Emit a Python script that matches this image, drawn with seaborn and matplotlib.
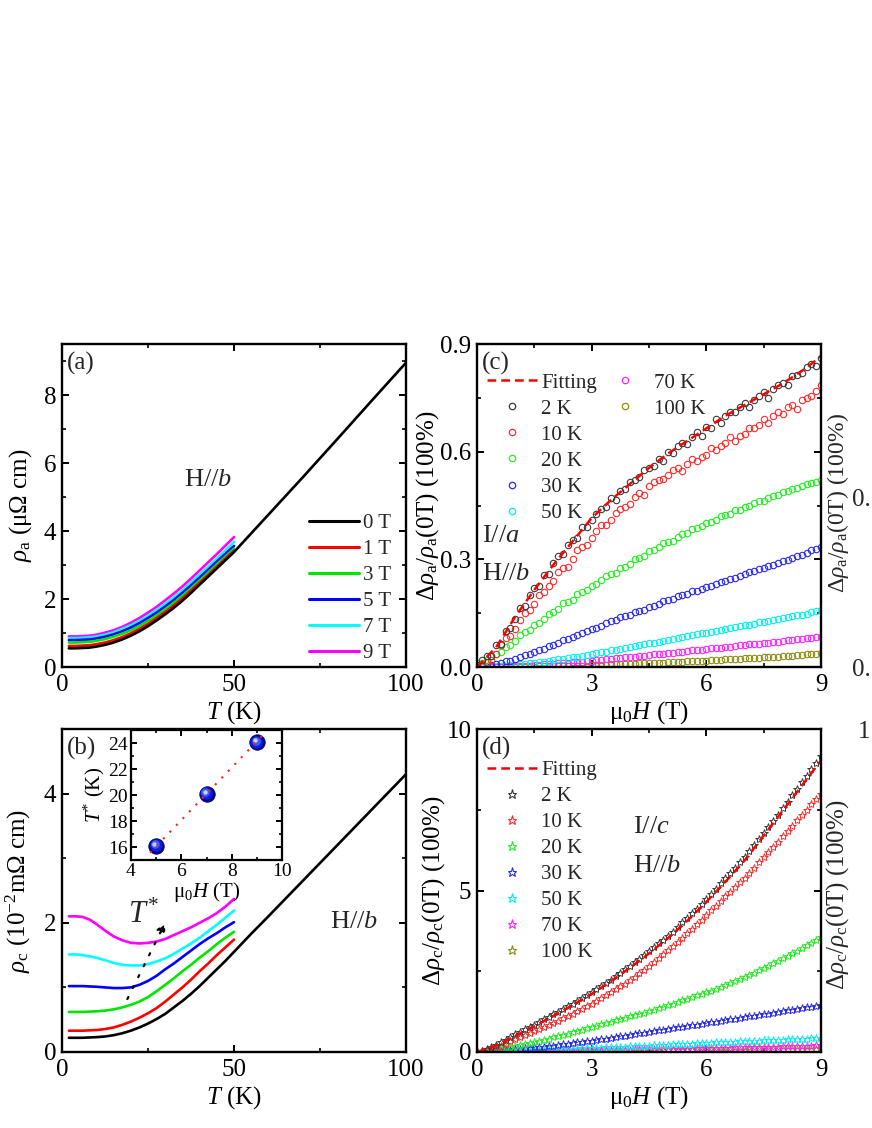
import numpy as np
import pandas as pd
import matplotlib
matplotlib.use("Agg")
import matplotlib.pyplot as plt
import matplotlib.transforms as mtransforms
from matplotlib.lines import Line2D
from matplotlib.ticker import MultipleLocator, FormatStrFormatter
import seaborn as sns

# ---------------- data ----------------
# panels (a)/(b): temperature grid below 50 K and the 0 T extension to 100 K
T_low = [2, 4, 6, 8, 10, 12.5, 15, 17.5, 20, 22.5, 25, 27.5, 30, 32.5, 35, 37.5,
         40, 42.5, 45, 47.5, 50]
T_high = [55, 60, 70, 80, 90, 100]
fields_a = ["0 T", "1 T", "3 T", "5 T", "7 T", "9 T"]

# panel (a): rho_a (uOhm cm)
rho_a_0T = [0.55, 0.55, 0.56, 0.57, 0.60, 0.65, 0.72, 0.81, 0.92, 1.05, 1.20, 1.37,
            1.55, 1.74, 1.95, 2.18, 2.42, 2.66, 2.90, 3.14, 3.38,
            3.93, 4.48, 5.58, 6.70, 7.83, 8.95]
rho_a_1T = [0.62, 0.62, 0.63, 0.64, 0.67, 0.72, 0.79, 0.88, 0.99, 1.12, 1.27, 1.44,
            1.62, 1.81, 2.02, 2.25, 2.48, 2.71, 2.95, 3.19, 3.42]
rho_a_3T = [0.72, 0.72, 0.73, 0.74, 0.77, 0.82, 0.89, 0.98, 1.08, 1.21, 1.36, 1.52,
            1.70, 1.89, 2.10, 2.32, 2.55, 2.78, 3.02, 3.25, 3.48]
rho_a_5T = [0.79, 0.79, 0.80, 0.81, 0.84, 0.89, 0.96, 1.05, 1.16, 1.29, 1.44, 1.60,
            1.78, 1.97, 2.18, 2.40, 2.63, 2.86, 3.10, 3.33, 3.56]
rho_a_7T = [0.85, 0.85, 0.86, 0.87, 0.90, 0.95, 1.02, 1.12, 1.23, 1.36, 1.51, 1.68,
            1.86, 2.05, 2.26, 2.49, 2.72, 2.95, 3.19, 3.43, 3.68]
rho_a_9T = [0.90, 0.90, 0.91, 0.92, 0.95, 1.01, 1.08, 1.18, 1.30, 1.44, 1.60, 1.77,
            1.96, 2.16, 2.37, 2.60, 2.84, 3.08, 3.32, 3.57, 3.82]

# panel (b): rho_c (10^-2 mOhm cm)
rho_c_0T = [0.22, 0.22, 0.22, 0.225, 0.23, 0.24, 0.26, 0.29, 0.33, 0.38, 0.44, 0.51,
            0.59, 0.69, 0.79, 0.90, 1.02, 1.15, 1.28, 1.41, 1.55,
            1.83, 2.10, 2.65, 3.20, 3.75, 4.30]
rho_c_1T = [0.33, 0.33, 0.33, 0.335, 0.34, 0.355, 0.38, 0.42, 0.47, 0.53, 0.60,
            0.68, 0.78, 0.89, 1.00, 1.12, 1.25, 1.37, 1.50, 1.62, 1.74]
rho_c_3T = [0.62, 0.62, 0.62, 0.625, 0.63, 0.64, 0.66, 0.69, 0.73, 0.78, 0.85,
            0.94, 1.04, 1.14, 1.25, 1.35, 1.46, 1.56, 1.67, 1.77, 1.86]
rho_c_5T = [1.02, 1.02, 1.02, 1.015, 1.01, 1.00, 0.99, 0.99, 1.00, 1.04, 1.10,
            1.18, 1.28, 1.37, 1.47, 1.57, 1.67, 1.76, 1.84, 1.93, 2.01]
rho_c_7T = [1.51, 1.51, 1.50, 1.48, 1.46, 1.42, 1.38, 1.35, 1.34, 1.34, 1.36,
            1.40, 1.45, 1.52, 1.60, 1.68, 1.77, 1.87, 1.97, 2.08, 2.19]
rho_c_9T = [2.10, 2.10, 2.09, 2.05, 1.98, 1.88, 1.79, 1.73, 1.69, 1.68, 1.69,
            1.71, 1.75, 1.81, 1.87, 1.93, 2.00, 2.07, 2.15, 2.25, 2.37]
# T* guide (dotted arrow) start / end
tstar_T = [19.0, 30.0]
tstar_rho = [0.82, 2.00]

# inset: T* vs field
inset_H = [5, 7, 9]
inset_Tstar = [16.1, 20.1, 24.05]
inset_fit_H = [4.76, 9.27]
inset_fit_T = [15.57, 24.67]

# panels (c)/(d): magnetoresistance vs field
H_grid = [0.0, 0.125, 0.25, 0.375, 0.5, 0.625, 0.75, 0.875,
          1.0, 1.125, 1.25, 1.375, 1.5, 1.625, 1.75, 1.875,
          2.0, 2.125, 2.25, 2.375, 2.5, 2.625, 2.75, 2.875,
          3.0, 3.125, 3.25, 3.375, 3.5, 3.625, 3.75, 3.875,
          4.0, 4.125, 4.25, 4.375, 4.5, 4.625, 4.75, 4.875,
          5.0, 5.125, 5.25, 5.375, 5.5, 5.625, 5.75, 5.875,
          6.0, 6.125, 6.25, 6.375, 6.5, 6.625, 6.75, 6.875,
          7.0, 7.125, 7.25, 7.375, 7.5, 7.625, 7.75, 7.875,
          8.0, 8.125, 8.25, 8.375, 8.5, 8.625, 8.75, 8.875,
          9.0]
H_fit = [0.0, 0.5, 1.0, 1.5, 2.0, 2.5, 3.0, 3.5, 4.0, 4.5, 5.0, 5.5, 6.0, 6.5,
         7.0, 7.5, 8.0, 8.5, 9.0]
temps = ["2 K", "10 K", "20 K", "30 K", "50 K", "70 K", "100 K"]

# (c) I//a
mr_a_fit = [0.0, 0.055, 0.14, 0.215, 0.285, 0.35, 0.415, 0.465, 0.51, 0.555,
            0.595, 0.63, 0.665, 0.70, 0.73, 0.76, 0.79, 0.825, 0.865]
mr_a_2K = [0.005, 0.02, 0.03, 0.03, 0.06, 0.065, 0.10, 0.11,
           0.135, 0.165, 0.17, 0.20, 0.22, 0.225, 0.255, 0.26,
           0.29, 0.31, 0.315, 0.34, 0.355, 0.36, 0.39, 0.39,
           0.41, 0.425, 0.44, 0.445, 0.47, 0.465, 0.49, 0.495,
           0.515, 0.52, 0.53, 0.55, 0.555, 0.56, 0.58, 0.575,
           0.60, 0.595, 0.615, 0.625, 0.62, 0.64, 0.655, 0.645,
           0.67, 0.665, 0.69, 0.68, 0.70, 0.71, 0.71, 0.725,
           0.735, 0.725, 0.745, 0.755, 0.765, 0.75, 0.775, 0.785,
           0.79, 0.785, 0.81, 0.815, 0.82, 0.835, 0.845, 0.84,
           0.86]
mr_a_10K = [0.0, 0.005, 0.015, 0.02, 0.035, 0.06, 0.08, 0.085,
            0.105, 0.13, 0.15, 0.16, 0.175, 0.20, 0.21, 0.225,
            0.24, 0.265, 0.275, 0.28, 0.30, 0.325, 0.335, 0.34,
            0.36, 0.38, 0.395, 0.395, 0.41, 0.43, 0.44, 0.445,
            0.455, 0.475, 0.485, 0.48, 0.505, 0.515, 0.52, 0.525,
            0.535, 0.55, 0.555, 0.545, 0.565, 0.58, 0.575, 0.585,
            0.59, 0.61, 0.605, 0.615, 0.625, 0.64, 0.63, 0.645,
            0.65, 0.665, 0.665, 0.675, 0.69, 0.68, 0.70, 0.71,
            0.705, 0.725, 0.73, 0.72, 0.745, 0.75, 0.755, 0.77,
            0.785]
mr_a_20K = [0.01, 0.012, 0.02, 0.03, 0.035, 0.042, 0.057, 0.062,
            0.073, 0.088, 0.097, 0.103, 0.117, 0.122, 0.133, 0.147,
            0.153, 0.162, 0.177, 0.18, 0.188, 0.203, 0.208, 0.215,
            0.227, 0.23, 0.242, 0.253, 0.258, 0.263, 0.277, 0.28,
            0.288, 0.30, 0.303, 0.31, 0.322, 0.325, 0.333, 0.345,
            0.348, 0.352, 0.362, 0.37, 0.373, 0.385, 0.388, 0.393,
            0.402, 0.403, 0.41, 0.42, 0.423, 0.427, 0.437, 0.438,
            0.447, 0.448, 0.457, 0.462, 0.463, 0.472, 0.477, 0.478,
            0.487, 0.49, 0.497, 0.50, 0.503, 0.51, 0.513, 0.515,
            0.52]
mr_a_30K = [0.0, 0.002, 0.004, 0.005, 0.009, 0.01, 0.016, 0.018,
            0.022, 0.028, 0.033, 0.036, 0.043, 0.046, 0.051, 0.058,
            0.061, 0.066, 0.074, 0.077, 0.083, 0.09, 0.094, 0.10,
            0.107, 0.11, 0.115, 0.122, 0.127, 0.13, 0.138, 0.141,
            0.146, 0.153, 0.156, 0.16, 0.168, 0.171, 0.176, 0.183,
            0.186, 0.19, 0.197, 0.20, 0.204, 0.211, 0.213, 0.218,
            0.224, 0.227, 0.231, 0.237, 0.24, 0.246, 0.249, 0.254,
            0.258, 0.264, 0.267, 0.272, 0.276, 0.282, 0.285, 0.29,
            0.295, 0.299, 0.304, 0.31, 0.313, 0.318, 0.325, 0.329,
            0.335]
mr_a_50K = [0.0, 0.0, 0.001, 0.002, 0.002, 0.003, 0.004, 0.005,
            0.006, 0.008, 0.009, 0.011, 0.012, 0.013, 0.015, 0.017,
            0.019, 0.021, 0.023, 0.024, 0.027, 0.029, 0.031, 0.033,
            0.036, 0.038, 0.041, 0.043, 0.046, 0.048, 0.051, 0.053,
            0.056, 0.058, 0.061, 0.063, 0.066, 0.068, 0.071, 0.073,
            0.076, 0.078, 0.081, 0.084, 0.086, 0.088, 0.091, 0.094,
            0.096, 0.098, 0.101, 0.104, 0.106, 0.108, 0.111, 0.114,
            0.116, 0.118, 0.121, 0.124, 0.126, 0.128, 0.131, 0.134,
            0.136, 0.138, 0.141, 0.144, 0.146, 0.149, 0.152, 0.155,
            0.158]
mr_a_70K = [0.0, 0.0, 0.0, 0.0, 0.001, 0.001, 0.001, 0.002,
            0.003, 0.003, 0.004, 0.004, 0.005, 0.006, 0.007, 0.008,
            0.009, 0.01, 0.011, 0.012, 0.013, 0.014, 0.015, 0.017,
            0.018, 0.019, 0.02, 0.022, 0.023, 0.024, 0.025, 0.027,
            0.028, 0.029, 0.03, 0.032, 0.033, 0.035, 0.036, 0.037,
            0.038, 0.04, 0.041, 0.043, 0.044, 0.046, 0.047, 0.048,
            0.05, 0.052, 0.053, 0.054, 0.056, 0.057, 0.058, 0.06,
            0.061, 0.063, 0.064, 0.065, 0.067, 0.068, 0.07, 0.071,
            0.073, 0.074, 0.076, 0.077, 0.079, 0.08, 0.081, 0.083,
            0.084]
mr_a_100K = [0.0, 0.0, 0.0, 0.0, 0.0, 0.0, 0.0, 0.0,
             0.001, 0.001, 0.001, 0.001, 0.001, 0.002, 0.002, 0.002,
             0.002, 0.003, 0.003, 0.003, 0.003, 0.004, 0.004, 0.004,
             0.005, 0.005, 0.006, 0.006, 0.007, 0.007, 0.008, 0.008,
             0.009, 0.009, 0.01, 0.01, 0.011, 0.011, 0.012, 0.012,
             0.013, 0.013, 0.014, 0.015, 0.016, 0.016, 0.017, 0.017,
             0.018, 0.019, 0.019, 0.02, 0.021, 0.021, 0.022, 0.023,
             0.024, 0.024, 0.025, 0.026, 0.027, 0.027, 0.028, 0.029,
             0.03, 0.031, 0.032, 0.033, 0.034, 0.035, 0.036, 0.037,
             0.039]

# (d) I//c
mr_c_fit = [0.0, 0.2, 0.5, 0.8, 1.12, 1.45, 1.8, 2.19, 2.61, 3.05, 3.53, 4.06,
            4.65, 5.27, 5.93, 6.70, 7.47, 8.25, 9.03]
mr_c_2K = [0.0, 0.04, 0.10, 0.16, 0.23, 0.30, 0.38, 0.46,
           0.55, 0.62, 0.70, 0.77, 0.85, 0.93, 1.01, 1.09,
           1.17, 1.25, 1.33, 1.41, 1.50, 1.58, 1.67, 1.76,
           1.85, 1.94, 2.04, 2.14, 2.24, 2.34, 2.45, 2.56,
           2.67, 2.78, 2.89, 3.00, 3.12, 3.24, 3.36, 3.48,
           3.60, 3.73, 3.87, 4.01, 4.15, 4.29, 4.44, 4.59,
           4.75, 4.90, 5.06, 5.22, 5.38, 5.54, 5.71, 5.88,
           6.05, 6.23, 6.41, 6.59, 6.78, 6.97, 7.16, 7.35,
           7.55, 7.75, 7.95, 8.15, 8.35, 8.55, 8.75, 8.95,
           9.16]
mr_c_10K = [0.0, 0.03, 0.06, 0.10, 0.15, 0.20, 0.26, 0.33,
            0.40, 0.46, 0.52, 0.58, 0.64, 0.70, 0.77, 0.83,
            0.90, 0.97, 1.04, 1.11, 1.19, 1.26, 1.34, 1.42,
            1.50, 1.58, 1.67, 1.76, 1.85, 1.94, 2.03, 2.12,
            2.22, 2.33, 2.44, 2.55, 2.67, 2.79, 2.91, 3.03,
            3.15, 3.28, 3.41, 3.54, 3.68, 3.82, 3.96, 4.10,
            4.25, 4.39, 4.53, 4.67, 4.82, 4.96, 5.11, 5.25,
            5.40, 5.55, 5.71, 5.87, 6.03, 6.19, 6.35, 6.51,
            6.68, 6.84, 7.01, 7.17, 7.34, 7.50, 7.67, 7.83,
            8.00]
mr_c_20K = [0.0, 0.01, 0.03, 0.05, 0.08, 0.11, 0.14, 0.17,
            0.20, 0.23, 0.26, 0.29, 0.32, 0.35, 0.38, 0.41,
            0.45, 0.49, 0.53, 0.57, 0.61, 0.65, 0.69, 0.73,
            0.78, 0.82, 0.86, 0.90, 0.94, 0.98, 1.02, 1.06,
            1.10, 1.14, 1.18, 1.22, 1.27, 1.31, 1.36, 1.40,
            1.45, 1.50, 1.55, 1.60, 1.65, 1.70, 1.75, 1.80,
            1.85, 1.90, 1.96, 2.02, 2.08, 2.14, 2.20, 2.26,
            2.32, 2.39, 2.46, 2.53, 2.60, 2.67, 2.75, 2.82,
            2.90, 2.98, 3.06, 3.14, 3.22, 3.30, 3.38, 3.46,
            3.55]
mr_c_30K = [0.0, 0.005, 0.01, 0.02, 0.03, 0.04, 0.05, 0.065,
            0.08, 0.095, 0.11, 0.125, 0.14, 0.155, 0.17, 0.185,
            0.20, 0.22, 0.24, 0.26, 0.28, 0.295, 0.31, 0.33,
            0.35, 0.37, 0.39, 0.415, 0.44, 0.46, 0.48, 0.505,
            0.53, 0.555, 0.58, 0.60, 0.62, 0.645, 0.67, 0.695,
            0.72, 0.74, 0.76, 0.785, 0.81, 0.83, 0.85, 0.875,
            0.90, 0.92, 0.94, 0.965, 0.99, 1.01, 1.03, 1.055,
            1.08, 1.10, 1.12, 1.145, 1.17, 1.19, 1.21, 1.235,
            1.26, 1.285, 1.31, 1.335, 1.36, 1.38, 1.40, 1.425,
            1.45]
mr_c_50K = [0.0, 0.003, 0.005, 0.008, 0.01, 0.015, 0.02, 0.025,
            0.03, 0.035, 0.04, 0.045, 0.05, 0.055, 0.06, 0.065,
            0.07, 0.075, 0.08, 0.088, 0.095, 0.103, 0.11, 0.115,
            0.12, 0.128, 0.135, 0.143, 0.15, 0.155, 0.16, 0.168,
            0.175, 0.183, 0.19, 0.195, 0.20, 0.208, 0.215, 0.223,
            0.23, 0.235, 0.24, 0.248, 0.255, 0.263, 0.27, 0.275,
            0.28, 0.288, 0.295, 0.303, 0.31, 0.315, 0.32, 0.328,
            0.335, 0.343, 0.35, 0.355, 0.36, 0.365, 0.37, 0.378,
            0.385, 0.39, 0.395, 0.403, 0.41, 0.415, 0.42, 0.425,
            0.43]
mr_c_70K = [0.0, 0.0, 0.0, 0.003, 0.005, 0.008, 0.01, 0.013,
            0.015, 0.018, 0.02, 0.023, 0.025, 0.028, 0.03, 0.033,
            0.035, 0.038, 0.04, 0.043, 0.045, 0.048, 0.05, 0.053,
            0.055, 0.058, 0.06, 0.063, 0.065, 0.068, 0.07, 0.073,
            0.075, 0.078, 0.08, 0.083, 0.085, 0.088, 0.09, 0.093,
            0.095, 0.098, 0.10, 0.103, 0.105, 0.108, 0.11, 0.115,
            0.12, 0.123, 0.125, 0.128, 0.13, 0.135, 0.14, 0.143,
            0.145, 0.148, 0.15, 0.155, 0.16, 0.163, 0.165, 0.17,
            0.175, 0.178, 0.18, 0.185, 0.19, 0.195, 0.20, 0.205,
            0.21]
mr_c_100K = [0.0, 0.0, 0.0, 0.0, 0.0, 0.002, 0.003, 0.004,
             0.005, 0.005, 0.005, 0.008, 0.01, 0.01, 0.01, 0.013,
             0.015, 0.015, 0.015, 0.018, 0.02, 0.02, 0.02, 0.023,
             0.025, 0.028, 0.03, 0.03, 0.03, 0.033, 0.035, 0.035,
             0.035, 0.038, 0.04, 0.04, 0.04, 0.043, 0.045, 0.048,
             0.05, 0.05, 0.05, 0.053, 0.055, 0.058, 0.06, 0.06,
             0.06, 0.063, 0.065, 0.068, 0.07, 0.07, 0.07, 0.073,
             0.075, 0.078, 0.08, 0.08, 0.08, 0.083, 0.085, 0.088,
             0.09, 0.09, 0.09, 0.093, 0.095, 0.098, 0.10, 0.10,
             0.105]

colors_field = ["#000000", "#FF0000", "#00E600", "#0000FF", "#00FFFF", "#FF00FF"]
colors_temp = ["#3A3A3A", "#FF2A2A", "#22EE22", "#2A2AEE", "#00F0F0", "#FF22FF",
               "#8C8C10"]

# ---------------- style ----------------
sns.set_theme(style="ticks")
plt.rcParams.update({
    "font.family": ["Liberation Serif", "DejaVu Serif"],
    "mathtext.fontset": "custom",
    "mathtext.rm": "Liberation Serif",
    "mathtext.it": "Liberation Serif:italic",
    "mathtext.bf": "Liberation Serif:bold",
    "axes.linewidth": 1.7,
    "axes.edgecolor": "black",
    "axes.facecolor": "white",
    "axes.labelcolor": "black",
    "xtick.color": "black", "ytick.color": "black",
    "xtick.direction": "in", "ytick.direction": "in",
    "xtick.top": True, "ytick.right": True,
    "xtick.major.size": 5, "ytick.major.size": 5,
    "xtick.minor.size": 3, "ytick.minor.size": 3,
    "xtick.major.width": 1.4, "ytick.major.width": 1.4,
    "xtick.minor.width": 1.2, "ytick.minor.width": 1.2,
    "xtick.major.pad": 5, "ytick.major.pad": 4,
    "xtick.labelsize": 18, "ytick.labelsize": 18,
    "axes.labelsize": 18,
    "legend.fontsize": 15,
})

W, H = 872, 1128
fig = plt.figure(figsize=(W / 100, H / 100), dpi=100)
fig.patch.set_facecolor("white")


def px_axes(l, t, r, b):
    return fig.add_axes([l / W, 1 - b / H, (r - l) / W, (b - t) / H])


ax_a = px_axes(62, 344, 406, 667)
ax_c = px_axes(477, 344, 821, 667)
ax_b = px_axes(62, 729, 406, 1052)
ax_d = px_axes(477, 729, 821, 1052)


def long_frame(series):
    rows = []
    for f, vals in zip(fields_a, series):
        Ts = (T_low + T_high) if len(vals) > len(T_low) else T_low
        for t, v in zip(Ts, vals):
            rows.append((f, t, v))
    return pd.DataFrame(rows, columns=["field", "T", "rho"])


# ---------- (a) ----------
df_a = long_frame([rho_a_0T, rho_a_1T, rho_a_3T, rho_a_5T, rho_a_7T, rho_a_9T])
sns.lineplot(data=df_a, x="T", y="rho", hue="field", hue_order=fields_a[::-1],
             palette=dict(zip(fields_a, colors_field)), estimator=None, sort=False,
             lw=1.9, ax=ax_a, legend=False)
ax_a.set_xlim(0, 100)
ax_a.set_ylim(0, 9.5)
ax_a.xaxis.set_major_locator(MultipleLocator(50))
ax_a.xaxis.set_minor_locator(MultipleLocator(25))
ax_a.yaxis.set_major_locator(MultipleLocator(2))
ax_a.yaxis.set_minor_locator(MultipleLocator(1))
ax_a.set_xlabel(r"$T$ (K)")
ax_a.set_ylabel(r"$\rho_{\rm a}$ (μΩ cm)")
hand_a = [Line2D([], [], color=c, lw=2.2) for c in colors_field]
ax_a.legend(hand_a, fields_a, loc="lower right", bbox_to_anchor=(0.958, 0.012),
            frameon=False, handlelength=2.4, handletextpad=0.2, labelspacing=0.31,
            borderpad=0, borderaxespad=0)
ax_a.text(0.015, 0.975, "(a)", transform=ax_a.transAxes, ha="left", va="top",
          fontsize=18)
ax_a.text(0.355, 0.56, r"H//$b$", transform=ax_a.transAxes, ha="left",
          va="baseline", fontsize=19)

# ---------- (b) ----------
df_b = long_frame([rho_c_0T, rho_c_1T, rho_c_3T, rho_c_5T, rho_c_7T, rho_c_9T])
sns.lineplot(data=df_b, x="T", y="rho", hue="field", hue_order=fields_a,
             palette=dict(zip(fields_a, colors_field)), estimator=None, sort=False,
             lw=1.9, ax=ax_b, legend=False)
ax_b.set_xlim(0, 100)
ax_b.set_ylim(0, 5)
ax_b.xaxis.set_major_locator(MultipleLocator(50))
ax_b.xaxis.set_minor_locator(MultipleLocator(25))
ax_b.yaxis.set_major_locator(MultipleLocator(2))
ax_b.yaxis.set_minor_locator(MultipleLocator(1))
ax_b.set_xlabel(r"$T$ (K)")
ax_b.set_ylabel(r"$\rho_{\rm c}$ (10$^{-2}$mΩ cm)")
ax_b.annotate("", xy=(tstar_T[1], tstar_rho[1]), xytext=(tstar_T[0], tstar_rho[0]),
              arrowprops=dict(arrowstyle="-|>", color="black", lw=1.6,
                              linestyle=(0, (1, 4.5)), mutation_scale=13,
                              shrinkA=0, shrinkB=0))
ax_b.text(19.3, 1.99, r"$T^{*}$", fontsize=22, ha="left", va="baseline")
ax_b.text(0.015, 0.975, "(b)", transform=ax_b.transAxes, ha="left", va="top",
          fontsize=18)
ax_b.text(0.779, 0.384, r"H//$b$", transform=ax_b.transAxes, ha="left",
          va="baseline", fontsize=19)

# inset
ax_in = px_axes(131, 730, 282, 860)
for sp in ax_in.spines.values():
    sp.set_linewidth(1.6)
sns.lineplot(x=inset_fit_H, y=inset_fit_T, color="#FF2020", lw=1.5,
             linestyle=(0, (1, 3.5)), estimator=None, sort=False, ax=ax_in,
             zorder=5)
sns.scatterplot(x=inset_H, y=inset_Tstar, s=125, color="#00009A",
                edgecolor="#000060", linewidth=0.5, ax=ax_in, zorder=3,
                legend=False)
for sz, col, off in [(80, "#1020D8", 0.4), (38, "#3D5CFF", 0.9), (10, "#C8D2FF", 1.4)]:
    tr = ax_in.transData + mtransforms.ScaledTranslation(-off / 72, off / 72,
                                                          fig.dpi_scale_trans)
    ax_in.scatter(inset_H, inset_Tstar, s=sz, color=col, linewidths=0,
                  transform=tr, zorder=4)
ax_in.set_xlim(4, 10)
ax_in.set_ylim(15, 25)
ax_in.xaxis.set_major_locator(MultipleLocator(2))
ax_in.xaxis.set_minor_locator(MultipleLocator(1))
ax_in.yaxis.set_major_locator(MultipleLocator(2))
ax_in.yaxis.set_minor_locator(MultipleLocator(1))
ax_in.tick_params(labelsize=14, pad=2, length=4)
ax_in.tick_params(which="minor", length=2.5)
ax_in.set_xlabel(r"μ$_0$$H$ (T)", fontsize=15, labelpad=0)
ax_in.set_ylabel(r"$T^{*}$ (K)", fontsize=15, labelpad=1)

# ---------- (c) ----------
series_c = [mr_a_2K, mr_a_10K, mr_a_20K, mr_a_30K, mr_a_50K, mr_a_70K, mr_a_100K]
for vals, c in zip(series_c[::-1], colors_temp[::-1]):
    sns.lineplot(x=H_grid, y=vals, ax=ax_c, color=c, marker="o", linestyle="none",
                 mfc="none", mec=c, ms=4.6, mew=0.8, estimator=None, sort=False)
sns.lineplot(x=H_fit, y=mr_a_fit, ax=ax_c, color="#FF0000", lw=1.8,
             linestyle=(0, (3.5, 2)), estimator=None, sort=False)
ax_c.set_xlim(0, 9)
ax_c.set_ylim(0, 0.9)
ax_c.xaxis.set_major_locator(MultipleLocator(3))
ax_c.xaxis.set_minor_locator(MultipleLocator(1.5))
ax_c.yaxis.set_major_locator(MultipleLocator(0.3))
ax_c.yaxis.set_minor_locator(MultipleLocator(0.15))
ax_c.yaxis.set_major_formatter(FormatStrFormatter("%.1f"))
ax_c.set_xlabel(r"μ$_0$$H$ (T)")
ax_c.set_ylabel(r"$\Delta\rho_{\rm a}/\rho_{\rm a}$(0T) (100%)")
hand_c = [Line2D([], [], color="#FF0000", lw=1.8, linestyle=(0, (3.5, 2)))]
hand_c += [Line2D([], [], ls="none", marker="o", mfc="none", mec=c, ms=4.6, mew=0.9)
           for c in colors_temp]
lab_c = ["Fitting"] + temps
blank = Line2D([], [], ls="none")
ax_c.legend(hand_c + [blank] * 4, lab_c + [""] * 4, ncol=2, loc="upper left",
            bbox_to_anchor=(0.029, 0.91), frameon=False, handlelength=2.4,
            handletextpad=0.2, labelspacing=0.31, columnspacing=0.15, borderpad=0,
            borderaxespad=0)
ax_c.text(0.015, 0.975, "(c)", transform=ax_c.transAxes, ha="left", va="top",
          fontsize=18)
ax_c.text(0.015, 0.387, r"I//$a$", transform=ax_c.transAxes, ha="left",
          va="baseline", fontsize=19)
ax_c.text(0.015, 0.269, r"H//$b$", transform=ax_c.transAxes, ha="left",
          va="baseline", fontsize=19)

# ---------- (d) ----------
series_d = [mr_c_2K, mr_c_10K, mr_c_20K, mr_c_30K, mr_c_50K, mr_c_70K, mr_c_100K]
for vals, c in zip(series_d[::-1], colors_temp[::-1]):
    sns.lineplot(x=H_grid, y=vals, ax=ax_d, color=c, marker="*", linestyle="none",
                 mfc="none", mec=c, ms=6, mew=0.7, estimator=None, sort=False)
sns.lineplot(x=H_fit, y=mr_c_fit, ax=ax_d, color="#FF0000", lw=1.8,
             linestyle=(0, (3.5, 2)), estimator=None, sort=False)
ax_d.set_xlim(0, 9)
ax_d.set_ylim(0, 10)
ax_d.xaxis.set_major_locator(MultipleLocator(3))
ax_d.xaxis.set_minor_locator(MultipleLocator(1.5))
ax_d.yaxis.set_major_locator(MultipleLocator(5))
ax_d.yaxis.set_minor_locator(MultipleLocator(2.5))
ax_d.set_xlabel(r"μ$_0$$H$ (T)")
ax_d.set_ylabel(r"$\Delta\rho_{\rm c}/\rho_{\rm c}$(0T) (100%)")
hand_d = [Line2D([], [], color="#FF0000", lw=1.8, linestyle=(0, (3.5, 2)))]
hand_d += [Line2D([], [], ls="none", marker="*", mfc="none", mec=c, ms=6.5, mew=0.8)
           for c in colors_temp]
ax_d.legend(hand_d, lab_c, loc="upper left", bbox_to_anchor=(0.029, 0.903),
            frameon=False, handlelength=2.4, handletextpad=0.2, labelspacing=0.31,
            borderpad=0, borderaxespad=0)
ax_d.text(0.015, 0.975, "(d)", transform=ax_d.transAxes, ha="left", va="top",
          fontsize=18)
ax_d.text(0.453, 0.678, r"I//$c$", transform=ax_d.transAxes, ha="left",
          va="baseline", fontsize=19)
ax_d.text(0.453, 0.558, r"H//$b$", transform=ax_d.transAxes, ha="left",
          va="baseline", fontsize=19)

# label placement
ax_a.yaxis.set_label_coords(-0.08, 0.5)
ax_b.yaxis.set_label_coords(-0.083, 0.5)
ax_c.yaxis.set_label_coords(-0.105, 0.5)
ax_d.yaxis.set_label_coords(-0.087, 0.5)
for ax in (ax_a, ax_b, ax_c, ax_d):
    ax.xaxis.set_label_coords(0.5, -0.1)

# pieces of a neighbouring panel visible at the right edge
fig.text(838 / W, 1 - 503 / H, r"$\Delta\rho_{\rm a}/\rho_{\rm a}$(0T) (100%)",
         rotation=90, ha="center", va="center", fontsize=17)
fig.text(838 / W, 1 - 895 / H, r"$\Delta\rho_{\rm c}/\rho_{\rm c}$(0T) (100%)",
         rotation=90, ha="center", va="center", fontsize=18)
fig.text(852 / W, 1 - 500 / H, "0.", ha="left", va="center", fontsize=18)
fig.text(852 / W, 1 - 670 / H, "0.", ha="left", va="center", fontsize=18)
fig.text(858 / W, 1 - 732 / H, "1", ha="left", va="center", fontsize=18)

fig.savefig("out.png", dpi=100, facecolor="white")
